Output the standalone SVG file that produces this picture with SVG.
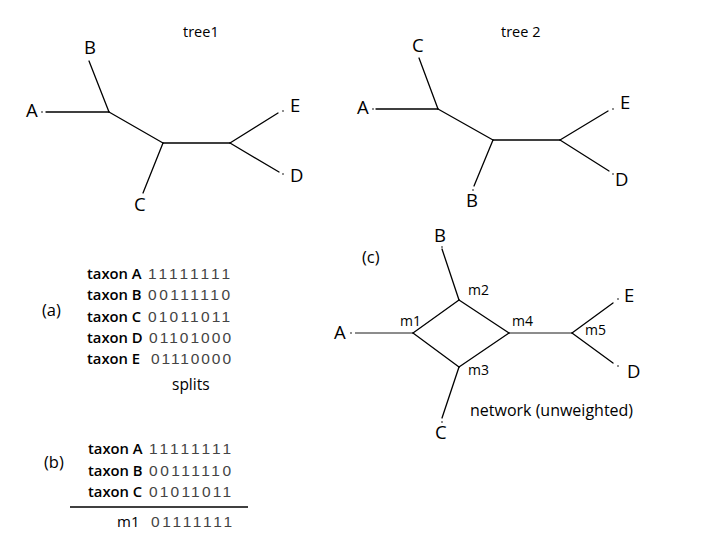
<svg xmlns="http://www.w3.org/2000/svg" width="720" height="540" viewBox="0 0 720 540">
<style>
  .e { stroke:#000; stroke-width:1.3; fill:none; stroke-linecap:round; }
  .t { stroke:#000; stroke-width:0.9; fill:none; }
  .lbl { font-family:"Open Sans","Noto Sans",sans-serif; font-size:18.5px; fill:#000; }
  .par { font-family:"Open Sans","Noto Sans",sans-serif; font-size:16.5px; fill:#000; }
  .sm { font-family:"Open Sans","Noto Sans",sans-serif; font-size:14px; fill:#000; }
  .tx { font-family:"Open Sans","Noto Sans",sans-serif; font-size:14.8px; font-weight:600; fill:#000; }
  .bits { font-family:"Liberation Sans","DejaVu Sans",sans-serif; font-size:15.5px; fill:#444; }
  .dot { fill:#000; }
</style>
<rect width="720" height="540" fill="#fff"/>

<!-- tree 1 -->
<g id="tree1">
  <text class="sm" x="183" y="37" style="font-size:14.5px">tree1</text>
  <g id="t1-edges">
    <line class="e" x1="89" y1="61" x2="109" y2="112"/>
    <line class="e" x1="46" y1="112" x2="109" y2="112"/>
    <line class="e" x1="109" y1="112" x2="163" y2="143"/>
    <line class="e" x1="163" y1="143" x2="143" y2="193"/>
    <line class="e" x1="163" y1="143" x2="230" y2="143"/>
    <line class="e" x1="230" y1="143" x2="278" y2="113"/>
    <line class="e" x1="230" y1="143" x2="279" y2="172"/>
  </g>
  <circle class="dot" cx="42" cy="112" r="0.8"/>
  <circle class="dot" cx="283" cy="111" r="0.8"/>
  <circle class="dot" cx="283" cy="174" r="0.8"/>
  <g id="t1-A"><text class="lbl" x="26" y="117">A</text></g>
  <g id="t1-B"><text class="lbl" x="84" y="54">B</text></g>
  <g id="t1-C"><text class="lbl" x="134" y="211">C</text></g>
  <g id="t1-E"><text class="lbl" x="290" y="112">E</text></g>
  <g id="t1-D"><text class="lbl" x="290" y="182">D</text></g>
</g>

<!-- tree 2 -->
<g id="tree2">
  <text class="sm" x="501" y="37" style="font-size:14.5px">tree 2</text>
  <g id="t2-edges">
    <line class="e" x1="419" y1="58" x2="438" y2="109"/>
    <line class="e" x1="376" y1="109" x2="438" y2="109"/>
    <line class="e" x1="438" y1="109" x2="493" y2="140"/>
    <line class="e" x1="493" y1="140" x2="474" y2="186"/>
    <line class="e" x1="493" y1="140" x2="560" y2="140"/>
    <line class="e" x1="560" y1="140" x2="608" y2="111"/>
    <line class="e" x1="560" y1="140" x2="609" y2="171"/>
  </g>
  <circle class="dot" cx="373" cy="109" r="0.8"/>
  <circle class="dot" cx="613" cy="109" r="0.8"/>
  <circle class="dot" cx="613" cy="174" r="0.8"/>
  <circle class="dot" cx="473" cy="190" r="0.8"/>
  <g id="t2-A"><text class="lbl" x="357" y="114">A</text></g>
  <g id="t2-C"><text class="lbl" x="412" y="52">C</text></g>
  <g id="t2-B"><text class="lbl" x="466" y="207">B</text></g>
  <g id="t2-E"><text class="lbl" x="620" y="109">E</text></g>
  <g id="t2-D"><text class="lbl" x="615" y="186">D</text></g>
</g>

<!-- (a) splits -->
<g id="splits-a">
  <text class="par" x="42" y="316">(a)</text>
  <text class="tx" x="87" y="279">taxon A</text><text class="bits" x="148" y="279" textLength="82">11111111</text>
  <text class="tx" x="87" y="300">taxon B</text><text class="bits" x="148" y="300" textLength="82">00111110</text>
  <text class="tx" x="87" y="322">taxon C</text><text class="bits" x="148" y="322" textLength="82">01011011</text>
  <text class="tx" x="87" y="343">taxon D</text><text class="bits" x="149" y="343" textLength="82">01101000</text>
  <text class="tx" x="87" y="364">taxon E</text><text class="bits" x="151" y="364" textLength="80">01110000</text>
  <text class="sm" x="172" y="390" style="font-size:15.5px">splits</text>
</g>

<!-- (b) -->
<g id="splits-b">
  <text class="par" x="44" y="468">(b)</text>
  <text class="tx" x="88" y="454">taxon A</text><text class="bits" x="149" y="454" textLength="82">11111111</text>
  <text class="tx" x="88" y="476">taxon B</text><text class="bits" x="149" y="476" textLength="82">00111110</text>
  <text class="tx" x="88" y="497">taxon C</text><text class="bits" x="149" y="497" textLength="82">01011011</text>
  <line x1="70" y1="507" x2="248" y2="507" stroke="#000" stroke-width="1.3"/>
  <text class="sm" x="117" y="527" style="font-size:15px">m1</text><text class="bits" x="151" y="527" textLength="81">01111111</text>
</g>

<!-- (c) network -->
<g id="network">
  <text class="par" x="362" y="263">(c)</text>
  <g id="net-edges">
    <line class="t" x1="355" y1="333" x2="413" y2="333"/>
    <line class="e" x1="413" y1="333" x2="459" y2="300"/>
    <line class="e" x1="413" y1="333" x2="459" y2="367"/>
    <line class="e" x1="459" y1="300" x2="509" y2="333"/>
    <line class="e" x1="459" y1="367" x2="509" y2="333"/>
    <line class="e" x1="459" y1="300" x2="442" y2="249"/>
    <line class="e" x1="459" y1="367" x2="442" y2="418"/>
    <line class="t" x1="509" y1="333" x2="572" y2="333"/>
    <line class="e" x1="572" y1="333" x2="613" y2="303"/>
    <line class="e" x1="572" y1="333" x2="613" y2="363"/>
  </g>
  <circle class="dot" cx="351" cy="333" r="0.8"/>
  <circle class="dot" cx="442" cy="247" r="0.8"/>
  <circle class="dot" cx="442" cy="422" r="0.8"/>
  <circle class="dot" cx="618" cy="299" r="0.8"/>
  <circle class="dot" cx="618" cy="366" r="0.8"/>
  <g id="n-A"><text class="lbl" x="334" y="339">A</text></g>
  <g id="n-B"><text class="lbl" x="434" y="242">B</text></g>
  <g id="n-C"><text class="lbl" x="435" y="439">C</text></g>
  <g id="n-E"><text class="lbl" x="624" y="302">E</text></g>
  <g id="n-D"><text class="lbl" x="627" y="378">D</text></g>
  <g id="n-m1"><text class="sm" x="400" y="326">m1</text></g>
  <g id="n-m2"><text class="sm" x="468" y="295">m2</text></g>
  <g id="n-m3"><text class="sm" x="468" y="375">m3</text></g>
  <g id="n-m4"><text class="sm" x="512" y="326">m4</text></g>
  <g id="n-m5"><text class="sm" x="585" y="335">m5</text></g>
  <text class="sm" x="470" y="416" style="font-size:16px">network (unweighted)</text>
</g>
</svg>
